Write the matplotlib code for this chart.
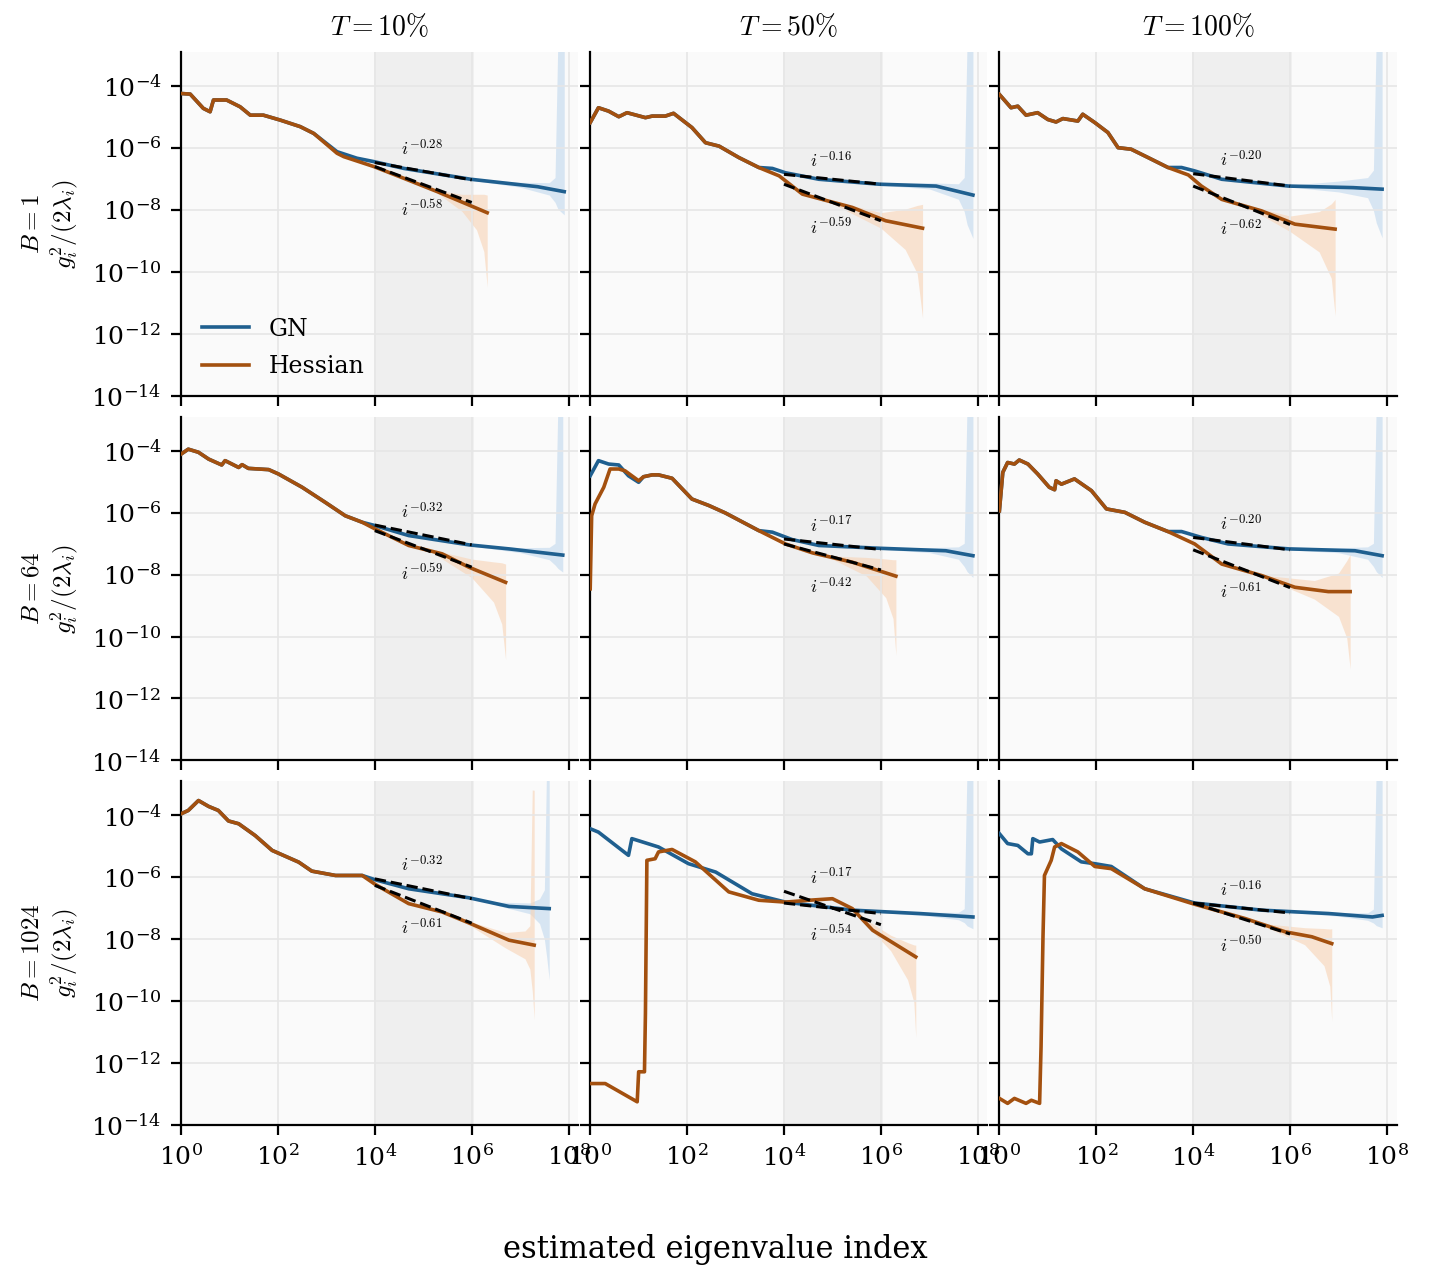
import numpy as np
import matplotlib
matplotlib.use("Agg")
import matplotlib.pyplot as plt

plt.rcParams["font.family"] = "serif"
plt.rcParams["mathtext.fontset"] = "cm"
plt.rcParams["font.size"] = 9

titles = [r"$T=10\%$", r"$T=50\%$", r"$T=100\%$"]
batch = ["1", "64", "1024"]

# log10 coordinates, indexed [row][col]
gn_x = [
    [[0, 0.19, 0.46, 0.6, 0.67, 0.94, 1.22, 1.43, 1.7, 2.05, 2.46, 2.74, 3.22, 3.63, 3.98, 4.6, 5.98, 7.36, 7.91],
     [0, 0.17, 0.38, 0.59, 0.76, 1.14, 1.28, 1.55, 1.72, 2.1, 2.38, 2.66, 3.07, 3.48, 3.76, 4.03, 4.72, 5.97, 7.14, 7.9],
     [0, 0.24, 0.38, 0.55, 0.79, 1.0, 1.17, 1.31, 1.62, 1.72, 1.97, 2.24, 2.45, 2.72, 3.07, 3.48, 3.76, 4.03, 4.59, 5.97, 7.3, 7.9]],
    [[0, 0.15, 0.36, 0.57, 0.84, 0.91, 1.19, 1.26, 1.39, 1.81, 2.01, 2.5, 2.98, 3.39, 3.74, 4.01, 4.7, 5.94, 6.77, 7.88],
     [0, 0.17, 0.38, 0.59, 0.79, 1.0, 1.1, 1.28, 1.41, 1.69, 2.1, 2.45, 2.79, 3.48, 3.76, 4.17, 4.72, 5.97, 7.34, 7.9],
     [0, 0.07, 0.17, 0.31, 0.41, 0.59, 0.79, 1.03, 1.14, 1.17, 1.28, 1.55, 1.9, 2.21, 2.59, 3.0, 3.48, 3.76, 4.17, 4.72, 5.97, 7.34, 7.9]],
    [[0, 0.15, 0.36, 0.57, 0.77, 0.98, 1.19, 1.53, 1.88, 2.43, 2.7, 3.19, 3.74, 4.01, 4.7, 5.94, 6.77, 7.6],
     [0, 0.17, 0.79, 0.86, 1.41, 2.03, 2.59, 3.34, 4.03, 5.41, 6.8, 7.9],
     [0, 0.17, 0.38, 0.59, 0.66, 0.69, 0.83, 1.1, 1.28, 1.69, 1.97, 2.31, 3.0, 4.03, 5.41, 6.8, 7.7, 7.9]],
]
gn_y = [
    [[-4.24, -4.26, -4.72, -4.83, -4.45, -4.45, -4.67, -4.94, -4.94, -5.1, -5.31, -5.53, -6.12, -6.33, -6.44, -6.66, -7.01, -7.25, -7.41],
     [-5.18, -4.7, -4.81, -4.99, -4.86, -5.02, -4.97, -4.97, -4.88, -5.34, -5.83, -5.94, -6.31, -6.63, -6.66, -6.8, -7.01, -7.17, -7.23, -7.52],
     [-4.27, -4.7, -4.65, -4.94, -4.86, -5.08, -5.16, -5.05, -5.13, -4.91, -5.18, -5.5, -5.99, -6.04, -6.31, -6.63, -6.63, -6.74, -7.01, -7.23, -7.28, -7.33]],
    [[-4.11, -3.95, -4.05, -4.27, -4.46, -4.32, -4.54, -4.45, -4.57, -4.61, -4.75, -5.18, -5.67, -6.1, -6.31, -6.42, -6.74, -7.04, -7.17, -7.37],
     [-4.81, -4.32, -4.43, -4.46, -4.81, -5.02, -4.84, -4.78, -4.78, -4.89, -5.56, -5.77, -6.01, -6.58, -6.63, -6.87, -7.06, -7.15, -7.23, -7.39],
     [-5.94, -4.7, -4.38, -4.43, -4.3, -4.43, -4.75, -5.18, -5.26, -4.97, -5.08, -4.91, -5.29, -5.88, -5.99, -6.31, -6.61, -6.61, -6.8, -7.01, -7.17, -7.23, -7.39]],
    [[-3.95, -3.84, -3.52, -3.71, -3.84, -4.18, -4.27, -4.65, -5.13, -5.51, -5.8, -5.94, -5.94, -6.08, -6.37, -6.66, -6.94, -7.01],
     [-4.43, -4.54, -5.29, -4.75, -5.02, -5.56, -5.83, -6.53, -6.8, -7.06, -7.17, -7.28],
     [-4.59, -4.91, -4.97, -5.24, -5.24, -4.75, -4.86, -4.78, -5.08, -5.5, -5.56, -5.65, -6.37, -6.83, -7.06, -7.17, -7.28, -7.23]],
]
he_x = [
    [[0, 0.19, 0.46, 0.6, 0.67, 0.94, 1.22, 1.43, 1.7, 2.05, 2.46, 2.74, 3.22, 3.36, 3.98, 4.6, 5.29, 6.32],
     [0, 0.17, 0.38, 0.59, 0.76, 1.14, 1.28, 1.55, 1.72, 2.1, 2.38, 2.66, 3.07, 3.48, 3.9, 4.38, 5.41, 6.1, 6.86],
     [0, 0.24, 0.38, 0.55, 0.79, 1.0, 1.17, 1.31, 1.62, 1.72, 1.97, 2.24, 2.45, 2.72, 3.07, 3.48, 3.9, 4.17, 4.59, 5.41, 6.1, 6.93]],
    [[0, 0.15, 0.36, 0.57, 0.84, 0.91, 1.19, 1.26, 1.39, 1.81, 2.01, 2.5, 2.98, 3.39, 3.74, 4.01, 4.7, 5.39, 5.94, 6.7],
     [0, 0.03, 0.1, 0.28, 0.41, 0.59, 0.72, 1.0, 1.1, 1.28, 1.41, 1.69, 2.1, 2.45, 2.79, 3.48, 4.03, 4.59, 5.41, 6.31],
     [0, 0.07, 0.17, 0.31, 0.41, 0.59, 0.79, 1.03, 1.14, 1.17, 1.28, 1.55, 1.9, 2.21, 2.59, 3.0, 3.48, 4.03, 4.59, 5.41, 6.1, 6.79, 7.24]],
    [[0, 0.15, 0.36, 0.57, 0.77, 0.98, 1.19, 1.53, 1.88, 2.43, 2.7, 3.19, 3.74, 4.01, 4.7, 5.39, 5.94, 6.77, 7.29],
     [0, 0.31, 0.97, 1.0, 1.12, 1.14, 1.17, 1.34, 1.41, 1.69, 2.17, 2.86, 3.48, 4.03, 4.52, 5.0, 5.41, 5.83, 6.72],
     [0, 0.17, 0.31, 0.55, 0.66, 0.83, 0.86, 0.9, 0.93, 1.07, 1.14, 1.28, 1.62, 1.97, 2.31, 3.0, 4.03, 5.07, 5.9, 6.45, 6.86]],
]
he_y = [
    [[-4.24, -4.26, -4.72, -4.83, -4.45, -4.45, -4.67, -4.94, -4.94, -5.1, -5.31, -5.53, -6.17, -6.28, -6.6, -6.98, -7.41, -8.09],
     [-5.18, -4.7, -4.81, -4.99, -4.86, -5.02, -4.97, -4.97, -4.88, -5.34, -5.83, -5.94, -6.31, -6.63, -6.9, -7.49, -7.92, -8.35, -8.59],
     [-4.27, -4.7, -4.65, -4.94, -4.86, -5.08, -5.16, -5.05, -5.13, -4.91, -5.18, -5.5, -5.99, -6.04, -6.31, -6.63, -6.87, -7.23, -7.66, -8.03, -8.46, -8.62]],
    [[-4.11, -3.95, -4.05, -4.27, -4.46, -4.32, -4.54, -4.45, -4.57, -4.61, -4.75, -5.18, -5.67, -6.1, -6.31, -6.53, -7.06, -7.33, -7.76, -8.25],
     [-8.46, -6.1, -5.72, -5.18, -4.59, -4.59, -4.65, -4.97, -4.84, -4.78, -4.78, -4.89, -5.56, -5.77, -6.01, -6.58, -7.01, -7.3, -7.6, -8.05],
     [-5.94, -4.7, -4.38, -4.43, -4.3, -4.43, -4.75, -5.18, -5.26, -4.97, -5.08, -4.91, -5.29, -5.88, -5.99, -6.31, -6.61, -7.01, -7.66, -8.03, -8.41, -8.55, -8.55]],
    [[-3.95, -3.84, -3.52, -3.71, -3.84, -4.18, -4.27, -4.65, -5.13, -5.51, -5.8, -5.94, -5.94, -6.23, -6.85, -7.12, -7.47, -8.03, -8.19],
     [-12.66, -12.66, -13.25, -12.28, -12.28, -10.4, -5.45, -5.4, -5.18, -5.1, -5.5, -6.47, -6.74, -6.8, -6.74, -6.69, -7.01, -7.71, -8.57],
     [-13.14, -13.3, -13.14, -13.3, -13.2, -13.3, -11.47, -7.92, -5.94, -5.45, -5.02, -4.91, -5.18, -5.65, -5.72, -6.37, -6.87, -7.33, -7.76, -7.92, -8.14]],
]

# fitted slopes and log10 value of the fit at i=1e4
gn_slope = [[-0.28, -0.16, -0.20], [-0.32, -0.17, -0.20], [-0.32, -0.17, -0.16]]
gn_fit0 = [[-6.47, -6.85, -6.83], [-6.4, -6.85, -6.8], [-6.05, -6.83, -6.83]]
he_slope = [[-0.58, -0.59, -0.62], [-0.59, -0.42, -0.61], [-0.61, -0.54, -0.50]]
he_fit0 = [[-6.6, -7.17, -7.23], [-6.58, -7.01, -7.2], [-6.26, -6.45, -6.83]]

# uncertainty bands: x, lower offset, upper offset (decades)
gn_band_x = [[[6.0, 7.0, 7.6, 7.72, 7.78, 7.91], [6.0, 7.0, 7.6, 7.72, 7.78, 7.9], [6.0, 7.0, 7.6, 7.72, 7.78, 7.9]],
             [[6.0, 7.0, 7.6, 7.72, 7.78, 7.88], [6.0, 7.0, 7.6, 7.72, 7.78, 7.9], [6.0, 7.0, 7.6, 7.72, 7.78, 7.9]],
             [[6.5, 7.2, 7.4, 7.5, 7.55, 7.6], [6.0, 7.0, 7.6, 7.72, 7.78, 7.9], [6.0, 7.0, 7.6, 7.72, 7.78, 7.9]]]
gn_band_lo = [[[0.03, 0.08, 0.2, 0.4, 0.6, 0.75], [0.03, 0.1, 0.25, 0.6, 1.0, 1.4], [0.03, 0.15, 0.3, 0.7, 1.1, 1.57]],
              [[0.03, 0.08, 0.2, 0.35, 0.45, 0.55], [0.03, 0.08, 0.2, 0.4, 0.55, 0.7], [0.03, 0.08, 0.2, 0.4, 0.55, 0.7]],
              [[0.05, 0.2, 0.5, 1.0, 1.6, 2.3], [0.03, 0.06, 0.12, 0.2, 0.3, 0.38], [0.03, 0.06, 0.12, 0.2, 0.3, 0.4]]]
gn_band_hi = [[[0.03, 0.08, 0.2, 0.4, 5.0, 5.0], [0.03, 0.1, 0.25, 0.5, 5.0, 5.0], [0.03, 0.2, 0.35, 0.6, 5.0, 5.0]],
              [[0.03, 0.08, 0.2, 0.35, 5.0, 5.0], [0.03, 0.08, 0.2, 0.35, 5.0, 5.0], [0.03, 0.08, 0.2, 0.35, 5.0, 5.0]],
              [[0.05, 0.15, 0.3, 0.6, 5.0, 5.0], [0.03, 0.06, 0.12, 0.25, 5.0, 5.0], [0.03, 0.06, 0.12, 0.25, 5.0, 5.0]]]
he_band_x = [[[5.3, 5.8, 6.1, 6.25, 6.32], [5.0, 6.0, 6.5, 6.75, 6.86], [5.2, 6.0, 6.6, 6.85, 6.93]],
             [[5.2, 6.0, 6.45, 6.62, 6.7], [5.0, 5.7, 6.1, 6.25, 6.31], [5.5, 6.5, 7.0, 7.17, 7.24]],
             [[5.9, 6.7, 7.1, 7.2, 7.25, 7.29], [5.6, 6.2, 6.55, 6.68, 6.72], [5.5, 6.3, 6.7, 6.82, 6.86]]]
he_band_lo = [[[0.05, 0.3, 0.7, 1.3, 2.4], [0.05, 0.3, 0.8, 1.5, 2.9], [0.05, 0.3, 0.8, 1.6, 2.8]],
              [[0.05, 0.3, 0.8, 1.4, 2.5], [0.05, 0.3, 0.8, 1.4, 2.55], [0.05, 0.3, 0.8, 1.5, 2.5]],
              [[0.05, 0.3, 0.5, 0.8, 1.5, 2.4], [0.05, 0.3, 0.9, 1.5, 2.6], [0.05, 0.3, 0.8, 1.4, 2.5]]]
he_band_hi = [[[0.05, 0.25, 0.45, 0.55, 0.57], [0.05, 0.2, 0.5, 0.7, 0.77], [0.05, 0.2, 0.5, 0.8, 0.96]],
              [[0.05, 0.3, 0.5, 0.58, 0.59], [0.05, 0.3, 0.45, 0.5, 0.53], [0.05, 0.3, 0.6, 1.0, 1.2]],
              [[0.05, 0.2, 0.4, 0.6, 5.0, 5.0], [0.05, 0.2, 0.3, 0.35, 0.38], [0.05, 0.25, 0.4, 0.45, 0.48]]]

GN_C = "#1f5f8f"
HE_C = "#a3500f"

fig, axes = plt.subplots(3, 3, figsize=(7.155, 6.42), dpi=200, sharex=True, sharey=True)
fig.subplots_adjust(left=0.1265, right=0.976, top=0.9595, bottom=0.1238, wspace=0.03, hspace=0.061)

for r in range(3):
    for c in range(3):
        ax = axes[r][c]
        ax.set_facecolor("#fafafa")
        ax.axvspan(1e4, 1e6, color="#efefef", zorder=0)
        ax.grid(True, color="#e6e6e6", lw=0.6, zorder=0)

        # bands
        bx = np.array(gn_band_x[r][c])
        by = np.interp(bx, gn_x[r][c], gn_y[r][c])
        ax.fill_between(10 ** bx, 10 ** (by - np.array(gn_band_lo[r][c])),
                        10 ** (by + np.array(gn_band_hi[r][c])), color="#c9ddf0", alpha=0.7, lw=0, zorder=1)
        bx = np.array(he_band_x[r][c])
        by = np.interp(bx, he_x[r][c], he_y[r][c])
        ax.fill_between(10 ** bx, 10 ** (by - np.array(he_band_lo[r][c])),
                        10 ** (by + np.array(he_band_hi[r][c])), color="#f8d3b5", alpha=0.6, lw=0, zorder=1)

        ax.plot(10 ** np.array(gn_x[r][c]), 10 ** np.array(gn_y[r][c]), color=GN_C, lw=1.3, zorder=3, label="GN")
        ax.plot(10 ** np.array(he_x[r][c]), 10 ** np.array(he_y[r][c]), color=HE_C, lw=1.3, zorder=3, label="Hessian")

        fx = np.array([1e4, 1e6])
        ax.plot(fx, 10 ** gn_fit0[r][c] * (fx / 1e4) ** gn_slope[r][c], "k--", lw=1.1, zorder=4)
        ax.plot(fx, 10 ** he_fit0[r][c] * (fx / 1e4) ** he_slope[r][c], "k--", lw=1.1, zorder=4)
        top = max(gn_fit0[r][c], he_fit0[r][c])
        ax.text(3.5e4, 10 ** (top + 0.1), r"$i^{%.2f}$" % gn_slope[r][c], fontsize=6.5, va="bottom", zorder=5)
        ax.text(3.5e4, 10 ** (he_fit0[r][c] - 1.05), r"$i^{%.2f}$" % he_slope[r][c], fontsize=6.5, va="top", zorder=5)

        ax.set_xscale("log")
        ax.set_yscale("log")
        ax.set_xlim(1, 10 ** 8.2)
        ax.set_ylim(1e-14, 10 ** -2.9)
        ax.set_xticks([1, 1e2, 1e4, 1e6, 1e8])
        ax.set_yticks([1e-14, 1e-12, 1e-10, 1e-8, 1e-6, 1e-4])
        ax.minorticks_off()
        ax.tick_params(direction="out", length=3.5, width=0.8)
        for s in ["top", "right"]:
            ax.spines[s].set_visible(False)
        if r == 0:
            ax.set_title(titles[c], fontsize=10)
        if c == 0:
            ax.set_ylabel("$B=%s$\n$g_i^2/(2\\lambda_i)$" % batch[r], fontsize=9)

axes[0][0].legend(loc="lower left", frameon=False, fontsize=8.5, bbox_to_anchor=(0.0, -0.01), labelspacing=0.6)
fig.supxlabel("estimated eigenvalue index", y=0.015, fontsize=11)
fig.savefig("out.png", dpi=200)
